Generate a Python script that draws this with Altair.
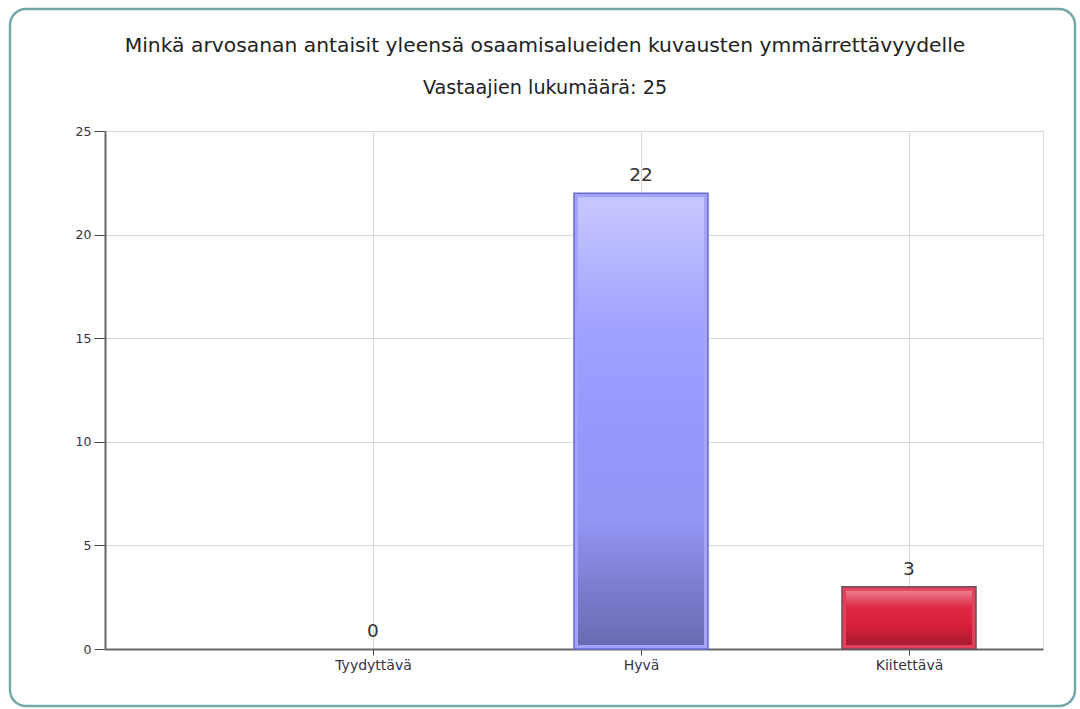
import altair as alt
import pandas as pd

# Survey answers per grade
categories = ["Tyydyttävä", "Hyvä", "Kiitettävä"]
counts = [0, 22, 3]
positions = [1, 2, 3]

title_text = "Minkä arvosanan antaisit yleensä osaamisalueiden kuvausten ymmärrettävyydelle"
subtitle_text = "Vastaajien lukumäärä: 25"

df = pd.DataFrame({"cat": categories, "n": counts, "pos": positions})
heads = pd.DataFrame({"title": [title_text], "subtitle": [subtitle_text]})

FONT = "DejaVu Sans"
X_DOMAIN = [0, 3.5]
Y_DOMAIN = [0, 25]

base = alt.Chart(df).transform_calculate(
    left="datum.pos - 0.25", right="datum.pos + 0.25"
)

x_axis = alt.Axis(
    values=positions,
    labelExpr="['', 'Tyydyttävä', 'Hyvä', 'Kiitettävä'][datum.value]",
    title=None,
    grid=True,
    gridColor="#d8d8d8",
    domainColor="#666666",
    domainWidth=2,
    tickColor="#444444",
    tickSize=6,
    labelFont=FONT,
    labelFontSize=14,
    labelColor="#333344",
    labelPadding=3,
)
y_axis = alt.Axis(
    values=[0, 5, 10, 15, 20, 25],
    title=None,
    grid=True,
    gridColor="#d8d8d8",
    domainColor="#666666",
    domainWidth=2,
    tickColor="#444444",
    tickSize=11,
    labelFont=FONT,
    labelFontSize=12.5,
    labelColor="#333344",
    labelPadding=3,
)

x_enc = alt.X("left:Q", scale=alt.Scale(domain=X_DOMAIN, nice=False, zero=False), axis=x_axis)
y_enc = alt.Y("n:Q", scale=alt.Scale(domain=Y_DOMAIN, nice=False), axis=y_axis)


def vgrad(stops):
    return alt.Gradient(
        gradient="linear", x1=0, x2=0, y1=0, y2=1,
        stops=[alt.GradientStop(offset=o, color=c) for o, c in stops],
    )


def bar_layers(cat, band_color, edge_color, inner_stops):
    sel = base.transform_filter(alt.datum.cat == cat)
    outer = sel.mark_bar(fill=band_color, stroke=edge_color, strokeWidth=1.5).encode(
        x=x_enc, x2="right:Q", y=y_enc, y2=alt.datum(0)
    )
    inner = sel.mark_bar(
        fill=vgrad(inner_stops), xOffset=4, x2Offset=-4, yOffset=4, y2Offset=-4
    ).encode(x="left:Q", x2="right:Q", y="n:Q", y2=alt.datum(0))
    return [outer, inner]


hyva = bar_layers(
    "Hyvä", "#a2a2ff", "#6a6ad6",
    [(0, "#c8c8ff"), (0.3, "#a0a0ff"), (0.5, "#9898fc"), (0.72, "#9494f4"),
     (0.85, "#8080d4"), (1, "#6a6ab2")],
)
kiit = bar_layers(
    "Kiitettävä", "#e4405a", "#6b4d5e",
    [(0, "#ea7c8c"), (0.3, "#df2a45"), (0.65, "#d81f3a"), (1, "#a81a32")],
)

labels = base.mark_text(
    font=FONT, fontSize=18.5, color="#333333", baseline="bottom", dy=-8
).encode(x="pos:Q", y="n:Q", text="n:Q")

# Heading lines above the plot area
title = alt.Chart(heads).mark_text(
    font=FONT, fontSize=20.3, color="#222222", align="center", baseline="middle"
).encode(text="title:N", x=alt.value(440), y=alt.value(-85))
subtitle = alt.Chart(heads).mark_text(
    font=FONT, fontSize=19.2, color="#222222", align="center", baseline="middle"
).encode(text="subtitle:N", x=alt.value(440), y=alt.value(-43))

# Rounded outer frame
frame = alt.Chart(heads).mark_rect(
    fill="transparent", stroke="#74a8a8", strokeWidth=2.5, cornerRadius=16
).encode(
    x=alt.value(-95), x2=alt.value(970), y=alt.value(-122), y2=alt.value(575)
)

chart = alt.layer(*hyva, *kiit, labels, title, subtitle, frame).properties(
    width=938,
    height=518,
    autosize=alt.AutoSizeParams(type="none"),
    padding={"left": 105, "top": 131, "right": 37, "bottom": 60},
).configure_view(stroke=None).configure(background="white")

chart.save("out.html", embed_options={"renderer": "svg", "actions": False})
